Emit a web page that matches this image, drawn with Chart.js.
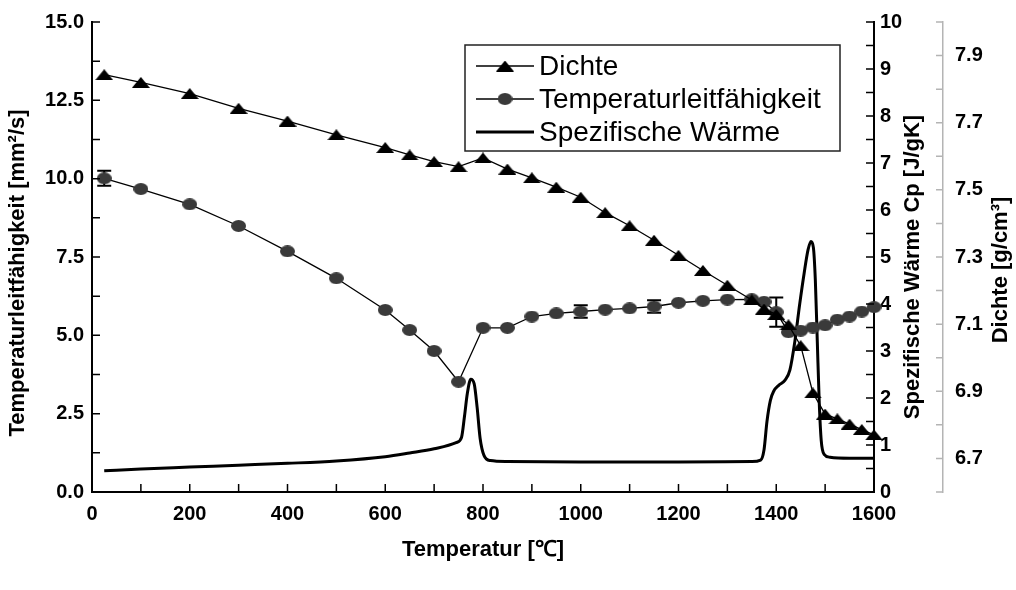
<!DOCTYPE html>
<html>
<head>
<meta charset="utf-8">
<script src="https://cdn.jsdelivr.net/npm/chart.js@4.4.0/dist/chart.umd.min.js"></script>
<style>
  html, body { margin: 0; padding: 0; background: #fff; }
  #wrap { width: 1016px; height: 590px; }
</style>
</head>
<body>
<div id="wrap"><canvas id="chart" width="1016" height="590"></canvas></div>
<script>
// Dichte [g/cm³]
const tempDichte = [25, 100, 200, 300, 400, 500, 600, 650, 700, 750, 800, 850, 900, 950, 1000, 1050, 1100,
  1150, 1200, 1250, 1300, 1350, 1375, 1400, 1425, 1450, 1475, 1500, 1525, 1550, 1575, 1600];
const dichte = [7.843, 7.820, 7.787, 7.743, 7.705, 7.664, 7.626, 7.604, 7.584, 7.569, 7.595, 7.562, 7.536,
  7.508, 7.478, 7.432, 7.393, 7.350, 7.305, 7.260, 7.216, 7.172, 7.145, 7.129, 7.098, 7.036, 6.895, 6.832,
  6.818, 6.802, 6.786, 6.770];

// Temperaturleitfähigkeit [mm²/s], Fehlerbalken (0 = keiner)
const tempTlf = [25, 100, 200, 300, 400, 500, 600, 650, 700, 750, 800, 850, 900, 950, 1000, 1050, 1100,
  1150, 1200, 1250, 1300, 1350, 1375, 1400, 1425, 1450, 1475, 1500, 1525, 1550, 1575, 1600];
const tlf = [10.01, 9.67, 9.18, 8.49, 7.68, 6.82, 5.81, 5.17, 4.5, 3.52, 5.24, 5.24, 5.6, 5.7, 5.76, 5.82,
  5.86, 5.92, 6.04, 6.1, 6.14, 6.15, 6.07, 5.74, 5.1, 5.15, 5.25, 5.32, 5.5, 5.6, 5.76, 5.9];
const tlfErr = [0.24, 0, 0, 0, 0, 0, 0, 0, 0, 0, 0, 0, 0, 0, 0.2, 0, 0, 0.2, 0, 0, 0, 0, 0, 0.47, 0, 0,
  0, 0, 0, 0, 0, 0];

// Spezifische Wärme Cp [J/gK]
const tempCp = [25, 100, 200, 300, 400, 500, 600, 650, 700, 745, 756, 762, 768, 775, 782, 788, 794, 802,
  815, 850, 1000, 1200, 1350, 1368, 1375, 1381, 1388, 1395, 1405, 1418, 1428, 1438, 1448, 1457, 1465,
  1471, 1476, 1480, 1484, 1488, 1492, 1498, 1510, 1550, 1600];
const cp = [0.45, 0.49, 0.53, 0.57, 0.61, 0.66, 0.75, 0.83, 0.92, 1.05, 1.16, 1.6, 2.1, 2.4, 2.3, 1.8,
  1.15, 0.78, 0.67, 0.65, 0.64, 0.64, 0.65, 0.68, 0.9, 1.5, 1.95, 2.15, 2.27, 2.38, 2.6, 3.2, 4.0, 4.65,
  5.15, 5.33, 5.2, 4.5, 3.2, 1.9, 1.1, 0.8, 0.74, 0.72, 0.72];

const labels = ['Dichte', 'Temperaturleitfähigkeit', 'Spezifische Wärme'];
const titleX = 'Temperatur [℃]';
const titleY = 'Temperaturleitfähigkeit [mm²/s]';
const titleCp = 'Spezifische Wärme Cp [J/gK]';
const titleD = 'Dichte [g/cm³]';

const FONT = '"Liberation Sans", Arial, Helvetica, sans-serif';
const tickFont = { family: FONT, size: 20, weight: 'bold', lineHeight: 1 };

function pts(xs, ys) {
  return xs.map((x, i) => ({ x: x, y: ys[i] }));
}

// flaches Dreieck als Marker
function triangleMarker(w, h, color) {
  const c = document.createElement('canvas');
  c.width = w; c.height = h;
  const g = c.getContext('2d');
  g.fillStyle = color;
  g.beginPath();
  g.moveTo(0, h); g.lineTo(w / 2, 0); g.lineTo(w, h);
  g.closePath();
  g.fill();
  return c;
}

// leicht gestauchter Kreis
function ellipseMarker(w, h, color) {
  const c = document.createElement('canvas');
  c.width = w; c.height = h;
  const g = c.getContext('2d');
  g.fillStyle = color;
  g.beginPath();
  g.ellipse(w / 2, h / 2, w / 2, h / 2, 0, 0, Math.PI * 2);
  g.fill();
  return c;
}

const tri = triangleMarker(18, 11, '#000');
const dot = ellipseMarker(15, 12, '#3a3a3a');

const hideGrid = { display: false, drawTicks: false };

// Fehlerbalken der Temperaturleitfähigkeit
const errorBars = {
  id: 'errorBars',
  beforeDatasetsDraw(chart) {
    const { ctx, scales } = chart;
    ctx.save();
    ctx.strokeStyle = '#000';
    ctx.lineWidth = 2;
    tlfErr.forEach((e, i) => {
      if (!e) return;
      const x = scales.x.getPixelForValue(tempTlf[i]);
      const y1 = scales.y.getPixelForValue(tlf[i] + e);
      const y2 = scales.y.getPixelForValue(tlf[i] - e);
      ctx.beginPath();
      ctx.moveTo(x, y1); ctx.lineTo(x, y2);
      ctx.moveTo(x - 7, y1); ctx.lineTo(x + 7, y1);
      ctx.moveTo(x - 7, y2); ctx.lineTo(x + 7, y2);
      ctx.stroke();
    });
    ctx.restore();
  }
};

// Teilstriche nach innen, Achsentitel, Legende
const decor = {
  id: 'decor',
  afterDraw(chart) {
    const { ctx, chartArea: a, scales } = chart;
    const { x, y, yCp, yD } = scales;
    ctx.save();
    ctx.lineWidth = 1.5;
    ctx.strokeStyle = '#000';
    ctx.beginPath();
    x.ticks.forEach(t => {
      const px = x.getPixelForValue(t.value);
      ctx.moveTo(px, a.bottom); ctx.lineTo(px, a.bottom - 8);
    });
    y.ticks.forEach(t => {
      const py = y.getPixelForValue(t.value);
      ctx.moveTo(a.left, py); ctx.lineTo(a.left + 8, py);
    });
    yCp.ticks.forEach(t => {
      const py = yCp.getPixelForValue(t.value);
      ctx.moveTo(a.right, py); ctx.lineTo(a.right - 8, py);
    });
    ctx.stroke();

    ctx.strokeStyle = '#b4b4b4';
    ctx.beginPath();
    yD.ticks.forEach(t => {
      const py = yD.getPixelForValue(t.value);
      ctx.moveTo(yD.left, py); ctx.lineTo(yD.left - 7, py);
    });
    ctx.stroke();

    // Achsentitel
    ctx.fillStyle = '#000';
    ctx.font = 'bold 22px ' + FONT;
    ctx.textAlign = 'center';
    ctx.textBaseline = 'middle';
    ctx.fillText(titleX, (a.left + a.right) / 2, 550);
    const vtitle = (text, cx, cy) => {
      ctx.save();
      ctx.translate(cx, cy);
      ctx.rotate(-Math.PI / 2);
      ctx.fillText(text, 0, 0);
      ctx.restore();
    };
    const midY = (a.top + a.bottom) / 2;
    vtitle(titleY, 18, midY + 16);
    vtitle(titleCp, 913, midY + 10);
    vtitle(titleD, 1001, 270);

    // Legende
    const lx = 465, ly = 45, lw = 375, lh = 106;
    ctx.fillStyle = '#fff';
    ctx.fillRect(lx, ly, lw, lh);
    ctx.strokeStyle = '#222';
    ctx.lineWidth = 1.5;
    ctx.strokeRect(lx, ly, lw, lh);
    ctx.font = '28px ' + FONT;
    ctx.textAlign = 'left';
    chart.data.datasets.forEach((ds, i) => {
      const ry = 66 + i * 33;
      ctx.strokeStyle = ds.borderColor;
      ctx.lineWidth = ds.borderWidth;
      ctx.beginPath();
      ctx.moveTo(476, ry); ctx.lineTo(534, ry);
      ctx.stroke();
      if (ds.pointRadius > 0) {
        const m = ds.pointStyle;
        ctx.drawImage(m, 505 - m.width / 2, ry - m.height / 2);
      }
      ctx.fillStyle = '#000';
      ctx.fillText(ds.label, 539, ry + 1);
    });
    ctx.restore();
  }
};

new Chart(document.getElementById('chart'), {
  type: 'line',
  data: {
    datasets: [
      {
        label: labels[0],
        data: pts(tempDichte, dichte),
        yAxisID: 'yD',
        borderColor: '#000',
        borderWidth: 1.3,
        pointStyle: tri,
        pointRadius: 8,
        clip: 14
      },
      {
        label: labels[1],
        data: pts(tempTlf, tlf),
        yAxisID: 'y',
        borderColor: '#000',
        borderWidth: 1.3,
        pointStyle: dot,
        pointRadius: 7,
        clip: 14
      },
      {
        label: labels[2],
        data: pts(tempCp, cp),
        yAxisID: 'yCp',
        borderColor: '#000',
        borderWidth: 3,
        pointRadius: 0,
        cubicInterpolationMode: 'monotone',
        clip: 6
      }
    ]
  },
  options: {
    responsive: false,
    animation: false,
    devicePixelRatio: 1,
    layout: { padding: { top: 19, left: 0, right: 0, bottom: 0 } },
    plugins: { legend: { display: false }, tooltip: { enabled: false } },
    scales: {
      x: {
        type: 'linear', min: 0, max: 1600,
        grid: hideGrid,
        border: { color: '#000', width: 2 },
        ticks: {
          stepSize: 100, autoSkip: false, maxRotation: 0, padding: 12,
          color: '#000', font: tickFont,
          callback: v => (v % 200 === 0 ? v : '')
        },
        afterFit: s => { s.height = 98; }
      },
      y: {
        position: 'left', min: 0, max: 15,
        grid: hideGrid,
        border: { color: '#000', width: 2 },
        ticks: {
          stepSize: 1.25, autoSkip: false, padding: 8,
          color: '#000', font: tickFont,
          callback: v => (Math.abs(v / 2.5 - Math.round(v / 2.5)) < 1e-6 ? v.toFixed(1) : '')
        },
        afterFit: s => { s.width = 92; }
      },
      yCp: {
        position: 'right', min: 0, max: 10,
        grid: hideGrid,
        border: { color: '#000', width: 2 },
        ticks: {
          stepSize: 0.5, autoSkip: false, padding: 6,
          color: '#000', font: tickFont,
          callback: v => (Number.isInteger(v) ? v : '')
        },
        afterFit: s => { s.width = 69; }
      },
      yD: {
        position: 'right', min: 6.6, max: 8.0,
        grid: hideGrid,
        border: { color: '#b4b4b4', width: 1.5 },
        ticks: {
          stepSize: 0.1, autoSkip: false, padding: 12,
          color: '#000', font: tickFont,
          callback: v => {
            const t = Math.round(v * 10);
            return t % 2 === 1 ? (t / 10).toFixed(1) : '';
          }
        },
        afterFit: s => { s.width = 73; }
      }
    }
  },
  plugins: [errorBars, decor]
});
</script>
</body>
</html>
